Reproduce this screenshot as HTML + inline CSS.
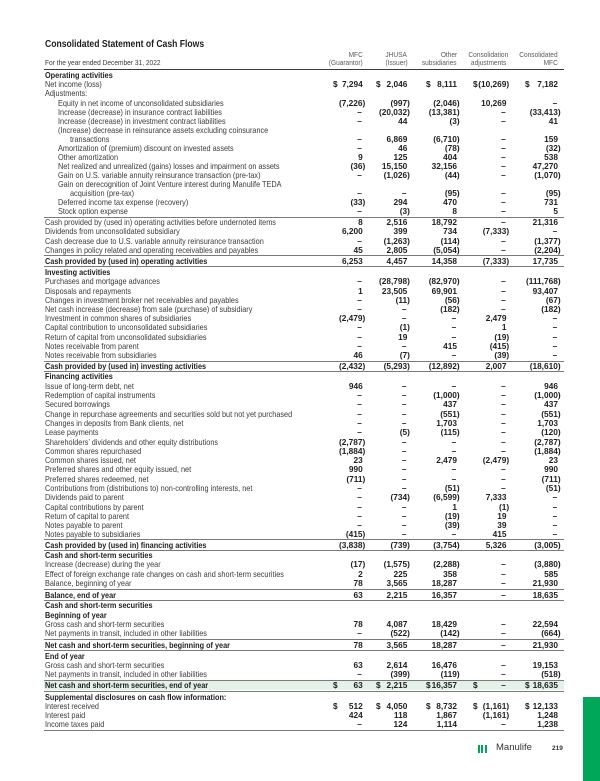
<!DOCTYPE html>
<html><head><meta charset="utf-8">
<style>
*{margin:0;padding:0;box-sizing:border-box}
html,body{width:600px;height:781px;background:#fff;overflow:hidden}
body{position:relative;font-family:"Liberation Sans",Arial,sans-serif;color:#231f20}
.r{position:absolute;left:0;width:600px;height:10px;line-height:10px;font-size:8.3px}
.t{position:absolute;left:45px;white-space:nowrap;transform:scaleX(.88);transform-origin:0 50%;color:#3a3a3a}
.t.i{left:58px}.t.j{left:70px}
.bd .t{font-weight:bold;color:#1e1e1e}
i{font-style:normal}
.n{position:absolute;top:0;font-weight:bold;font-size:8.3px;color:#1e1e1e;white-space:nowrap}
.n1{right:237.3px}.n2{right:192.7px}.n3{right:143px}.n4{right:93.5px}.n5{right:42px}
.p{margin-right:-2.6px}
.d{margin-right:.8px}
.s{position:absolute;top:0;font-weight:bold;font-size:8.3px;color:#1e1e1e}
.s1{left:333px}.s2{left:376px}.s3{left:426px}.s4{left:473px}.s5{left:525px}
.ln{position:absolute;left:44px;width:520px;height:1px;background:#7a7a7a}
.hd{position:absolute;font-size:7.3px;line-height:8px;color:#5a5a5a;white-space:nowrap;transform:scaleX(.9);transform-origin:100% 50%}
</style></head><body>

<div style="position:absolute;left:45px;top:38.6px;font-size:10px;line-height:12px;font-weight:bold;white-space:nowrap;transform:scaleX(.86);transform-origin:0 50%;color:#1e1e1e">Consolidated Statement of Cash Flows</div>

<div style="position:absolute;left:45px;top:59.1px;font-size:7.5px;line-height:8px;color:#3a3a3a;white-space:nowrap;transform:scaleX(.88);transform-origin:0 50%">For the year ended December 31, 2022</div>

<div class="hd" style="right:237.3px;top:50.9px">MFC</div>
<div class="hd" style="right:237.3px;top:59.1px">(Guarantor)</div>
<div class="hd" style="right:192.7px;top:50.9px">JHUSA</div>
<div class="hd" style="right:192.7px;top:59.1px">(Issuer)</div>
<div class="hd" style="right:143px;top:50.9px">Other</div>
<div class="hd" style="right:143px;top:59.1px">subsidiaries</div>
<div class="hd" style="right:92px;top:50.9px">Consolidation</div>
<div class="hd" style="right:94px;top:59.1px">adjustments</div>
<div class="hd" style="right:42px;top:50.9px">Consolidated</div>
<div class="hd" style="right:42px;top:59.1px">MFC</div>

<div style="position:absolute;left:44px;top:69.3px;width:520px;height:1.2px;background:#3c3c3c"></div>

<!-- lines -->
<div class="ln" style="top:216.5px"></div>
<div class="ln" style="top:255.4px"></div>
<div class="ln" style="top:265.9px"></div>
<div class="ln" style="top:360.5px"></div>
<div class="ln" style="top:370.8px"></div>
<div class="ln" style="top:538.9px"></div>
<div class="ln" style="top:550.2px"></div>
<div class="ln" style="top:589.4px"></div>
<div class="ln" style="top:600.3px"></div>
<div class="ln" style="top:639.3px"></div>
<div class="ln" style="top:650.1px"></div>
<div style="position:absolute;left:44px;top:680.2px;width:520px;height:10px;background:#e3f1e6"></div>
<div class="ln" style="top:679.6px"></div>
<div class="ln" style="top:690.6px"></div>
<div class="ln" style="top:729.5px"></div>

<!-- rows -->
<div class="r bd" style="top:70.3px"><span class="t">Operating activities</span></div>
<div class="r" style="top:79.4px"><span class="t">Net income (loss)</span><i class="s s1">$</i><i class="n n1">7,294</i><i class="s s2">$</i><i class="n n2">2,046</i><i class="s s3">$</i><i class="n n3">8,111</i><i class="s s4">$</i><i class="n n4 p">(10,269)</i><i class="s s5">$</i><i class="n n5">7,182</i></div>
<div class="r" style="top:88.4px"><span class="t">Adjustments:</span></div>
<div class="r" style="top:97.7px"><span class="t i">Equity in net income of unconsolidated subsidiaries</span><i class="n n1 p">(7,226)</i><i class="n n2 p">(997)</i><i class="n n3 p">(2,046)</i><i class="n n4">10,269</i><i class="n n5 d">–</i></div>
<div class="r" style="top:106.8px"><span class="t i">Increase (decrease) in insurance contract liabilities</span><i class="n n1 d">–</i><i class="n n2 p">(20,032)</i><i class="n n3 p">(13,381)</i><i class="n n4 d">–</i><i class="n n5 p">(33,413)</i></div>
<div class="r" style="top:115.9px"><span class="t i">Increase (decrease) in investment contract liabilities</span><i class="n n1 d">–</i><i class="n n2">44</i><i class="n n3 p">(3)</i><i class="n n4 d">–</i><i class="n n5">41</i></div>
<div class="r" style="top:125px"><span class="t i">(Increase) decrease in reinsurance assets excluding coinsurance</span></div>
<div class="r" style="top:133.9px"><span class="t j">transactions</span><i class="n n1 d">–</i><i class="n n2">6,869</i><i class="n n3 p">(6,710)</i><i class="n n4 d">–</i><i class="n n5">159</i></div>
<div class="r" style="top:142.7px"><span class="t i">Amortization of (premium) discount on invested assets</span><i class="n n1 d">–</i><i class="n n2">46</i><i class="n n3 p">(78)</i><i class="n n4 d">–</i><i class="n n5 p">(32)</i></div>
<div class="r" style="top:151.8px"><span class="t i">Other amortization</span><i class="n n1">9</i><i class="n n2">125</i><i class="n n3">404</i><i class="n n4 d">–</i><i class="n n5">538</i></div>
<div class="r" style="top:160.9px"><span class="t i">Net realized and unrealized (gains) losses and impairment on assets</span><i class="n n1 p">(36)</i><i class="n n2">15,150</i><i class="n n3">32,156</i><i class="n n4 d">–</i><i class="n n5">47,270</i></div>
<div class="r" style="top:170.1px"><span class="t i">Gain on U.S. variable annuity reinsurance transaction (pre-tax)</span><i class="n n1 d">–</i><i class="n n2 p">(1,026)</i><i class="n n3 p">(44)</i><i class="n n4 d">–</i><i class="n n5 p">(1,070)</i></div>
<div class="r" style="top:179.2px"><span class="t i">Gain on derecognition of Joint Venture interest during Manulife TEDA</span></div>
<div class="r" style="top:188px"><span class="t j">acquisition (pre-tax)</span><i class="n n1 d">–</i><i class="n n2 d">–</i><i class="n n3 p">(95)</i><i class="n n4 d">–</i><i class="n n5 p">(95)</i></div>
<div class="r" style="top:197px"><span class="t i">Deferred income tax expense (recovery)</span><i class="n n1 p">(33)</i><i class="n n2">294</i><i class="n n3">470</i><i class="n n4 d">–</i><i class="n n5">731</i></div>
<div class="r" style="top:206.1px"><span class="t i">Stock option expense</span><i class="n n1 d">–</i><i class="n n2 p">(3)</i><i class="n n3">8</i><i class="n n4 d">–</i><i class="n n5">5</i></div>
<div class="r" style="top:217.4px"><span class="t">Cash provided by (used in) operating activities before undernoted items</span><i class="n n1">8</i><i class="n n2">2,516</i><i class="n n3">18,792</i><i class="n n4 d">–</i><i class="n n5">21,316</i></div>
<div class="r" style="top:226.4px"><span class="t">Dividends from unconsolidated subsidiary</span><i class="n n1">6,200</i><i class="n n2">399</i><i class="n n3">734</i><i class="n n4 p">(7,333)</i><i class="n n5 d">–</i></div>
<div class="r" style="top:235.5px"><span class="t">Cash decrease due to U.S. variable annuity reinsurance transaction</span><i class="n n1 d">–</i><i class="n n2 p">(1,263)</i><i class="n n3 p">(114)</i><i class="n n4 d">–</i><i class="n n5 p">(1,377)</i></div>
<div class="r" style="top:244.7px"><span class="t">Changes in policy related and operating receivables and payables</span><i class="n n1">45</i><i class="n n2">2,805</i><i class="n n3 p">(5,054)</i><i class="n n4 d">–</i><i class="n n5 p">(2,204)</i></div>
<div class="r bd" style="top:255.9px"><span class="t">Cash provided by (used in) operating activities</span><i class="n n1">6,253</i><i class="n n2">4,457</i><i class="n n3">14,358</i><i class="n n4 p">(7,333)</i><i class="n n5">17,735</i></div>

<div class="r bd" style="top:266.6px"><span class="t">Investing activities</span></div>
<div class="r" style="top:276.2px"><span class="t">Purchases and mortgage advances</span><i class="n n1 d">–</i><i class="n n2 p">(28,798)</i><i class="n n3 p">(82,970)</i><i class="n n4 d">–</i><i class="n n5 p">(111,768)</i></div>
<div class="r" style="top:285.5px"><span class="t">Disposals and repayments</span><i class="n n1">1</i><i class="n n2">23,505</i><i class="n n3">69,901</i><i class="n n4 d">–</i><i class="n n5">93,407</i></div>
<div class="r" style="top:294.8px"><span class="t">Changes in investment broker net receivables and payables</span><i class="n n1 d">–</i><i class="n n2 p">(11)</i><i class="n n3 p">(56)</i><i class="n n4 d">–</i><i class="n n5 p">(67)</i></div>
<div class="r" style="top:304px"><span class="t">Net cash increase (decrease) from sale (purchase) of subsidiary</span><i class="n n1 d">–</i><i class="n n2 d">–</i><i class="n n3 p">(182)</i><i class="n n4 d">–</i><i class="n n5 p">(182)</i></div>
<div class="r" style="top:313.2px"><span class="t">Investment in common shares of subsidiaries</span><i class="n n1 p">(2,479)</i><i class="n n2 d">–</i><i class="n n3 d">–</i><i class="n n4">2,479</i><i class="n n5 d">–</i></div>
<div class="r" style="top:322.4px"><span class="t">Capital contribution to unconsolidated subsidiaries</span><i class="n n1 d">–</i><i class="n n2 p">(1)</i><i class="n n3 d">–</i><i class="n n4">1</i><i class="n n5 d">–</i></div>
<div class="r" style="top:331.7px"><span class="t">Return of capital from unconsolidated subsidiaries</span><i class="n n1 d">–</i><i class="n n2">19</i><i class="n n3 d">–</i><i class="n n4 p">(19)</i><i class="n n5 d">–</i></div>
<div class="r" style="top:340.9px"><span class="t">Notes receivable from parent</span><i class="n n1 d">–</i><i class="n n2 d">–</i><i class="n n3">415</i><i class="n n4 p">(415)</i><i class="n n5 d">–</i></div>
<div class="r" style="top:350.1px"><span class="t">Notes receivable from subsidiaries</span><i class="n n1">46</i><i class="n n2 p">(7)</i><i class="n n3 d">–</i><i class="n n4 p">(39)</i><i class="n n5 d">–</i></div>
<div class="r bd" style="top:361px"><span class="t">Cash provided by (used in) investing activities</span><i class="n n1 p">(2,432)</i><i class="n n2 p">(5,293)</i><i class="n n3 p">(12,892)</i><i class="n n4">2,007</i><i class="n n5 p">(18,610)</i></div>

<div class="r bd" style="top:371.4px"><span class="t">Financing activities</span></div>
<div class="r" style="top:380.7px"><span class="t">Issue of long-term debt, net</span><i class="n n1">946</i><i class="n n2 d">–</i><i class="n n3 d">–</i><i class="n n4 d">–</i><i class="n n5">946</i></div>
<div class="r" style="top:390px"><span class="t">Redemption of capital instruments</span><i class="n n1 d">–</i><i class="n n2 d">–</i><i class="n n3 p">(1,000)</i><i class="n n4 d">–</i><i class="n n5 p">(1,000)</i></div>
<div class="r" style="top:399.3px"><span class="t">Secured borrowings</span><i class="n n1 d">–</i><i class="n n2 d">–</i><i class="n n3">437</i><i class="n n4 d">–</i><i class="n n5">437</i></div>
<div class="r" style="top:408.6px"><span class="t">Change in repurchase agreements and securities sold but not yet purchased</span><i class="n n1 d">–</i><i class="n n2 d">–</i><i class="n n3 p">(551)</i><i class="n n4 d">–</i><i class="n n5 p">(551)</i></div>
<div class="r" style="top:417.9px"><span class="t">Changes in deposits from Bank clients, net</span><i class="n n1 d">–</i><i class="n n2 d">–</i><i class="n n3">1,703</i><i class="n n4 d">–</i><i class="n n5">1,703</i></div>
<div class="r" style="top:427.2px"><span class="t">Lease payments</span><i class="n n1 d">–</i><i class="n n2 p">(5)</i><i class="n n3 p">(115)</i><i class="n n4 d">–</i><i class="n n5 p">(120)</i></div>
<div class="r" style="top:436.5px"><span class="t">Shareholders’ dividends and other equity distributions</span><i class="n n1 p">(2,787)</i><i class="n n2 d">–</i><i class="n n3 d">–</i><i class="n n4 d">–</i><i class="n n5 p">(2,787)</i></div>
<div class="r" style="top:445.8px"><span class="t">Common shares repurchased</span><i class="n n1 p">(1,884)</i><i class="n n2 d">–</i><i class="n n3 d">–</i><i class="n n4 d">–</i><i class="n n5 p">(1,884)</i></div>
<div class="r" style="top:455.1px"><span class="t">Common shares issued, net</span><i class="n n1">23</i><i class="n n2 d">–</i><i class="n n3">2,479</i><i class="n n4 p">(2,479)</i><i class="n n5">23</i></div>
<div class="r" style="top:464.4px"><span class="t">Preferred shares and other equity issued, net</span><i class="n n1">990</i><i class="n n2 d">–</i><i class="n n3 d">–</i><i class="n n4 d">–</i><i class="n n5">990</i></div>
<div class="r" style="top:473.7px"><span class="t">Preferred shares redeemed, net</span><i class="n n1 p">(711)</i><i class="n n2 d">–</i><i class="n n3 d">–</i><i class="n n4 d">–</i><i class="n n5 p">(711)</i></div>
<div class="r" style="top:483px"><span class="t">Contributions from (distributions to) non-controlling interests, net</span><i class="n n1 d">–</i><i class="n n2 d">–</i><i class="n n3 p">(51)</i><i class="n n4 d">–</i><i class="n n5 p">(51)</i></div>
<div class="r" style="top:492.3px"><span class="t">Dividends paid to parent</span><i class="n n1 d">–</i><i class="n n2 p">(734)</i><i class="n n3 p">(6,599)</i><i class="n n4">7,333</i><i class="n n5 d">–</i></div>
<div class="r" style="top:501.6px"><span class="t">Capital contributions by parent</span><i class="n n1 d">–</i><i class="n n2 d">–</i><i class="n n3">1</i><i class="n n4 p">(1)</i><i class="n n5 d">–</i></div>
<div class="r" style="top:510.9px"><span class="t">Return of capital to parent</span><i class="n n1 d">–</i><i class="n n2 d">–</i><i class="n n3 p">(19)</i><i class="n n4">19</i><i class="n n5 d">–</i></div>
<div class="r" style="top:520.1px"><span class="t">Notes payable to parent</span><i class="n n1 d">–</i><i class="n n2 d">–</i><i class="n n3 p">(39)</i><i class="n n4">39</i><i class="n n5 d">–</i></div>
<div class="r" style="top:528.9px"><span class="t">Notes payable to subsidiaries</span><i class="n n1 p">(415)</i><i class="n n2 d">–</i><i class="n n3 d">–</i><i class="n n4">415</i><i class="n n5 d">–</i></div>
<div class="r bd" style="top:539.5px"><span class="t">Cash provided by (used in) financing activities</span><i class="n n1 p">(3,838)</i><i class="n n2 p">(739)</i><i class="n n3 p">(3,754)</i><i class="n n4">5,326</i><i class="n n5 p">(3,005)</i></div>

<div class="r bd" style="top:550.1px"><span class="t">Cash and short-term securities</span></div>
<div class="r" style="top:559.3px"><span class="t">Increase (decrease) during the year</span><i class="n n1 p">(17)</i><i class="n n2 p">(1,575)</i><i class="n n3 p">(2,288)</i><i class="n n4 d">–</i><i class="n n5 p">(3,880)</i></div>
<div class="r" style="top:568.5px"><span class="t">Effect of foreign exchange rate changes on cash and short-term securities</span><i class="n n1">2</i><i class="n n2">225</i><i class="n n3">358</i><i class="n n4 d">–</i><i class="n n5">585</i></div>
<div class="r" style="top:577.7px"><span class="t">Balance, beginning of year</span><i class="n n1">78</i><i class="n n2">3,565</i><i class="n n3">18,287</i><i class="n n4 d">–</i><i class="n n5">21,930</i></div>
<div class="r bd" style="top:589.9px"><span class="t">Balance, end of year</span><i class="n n1">63</i><i class="n n2">2,215</i><i class="n n3">16,357</i><i class="n n4 d">–</i><i class="n n5">18,635</i></div>

<div class="r bd" style="top:600.4px"><span class="t">Cash and short-term securities</span></div>
<div class="r bd" style="top:609.7px"><span class="t">Beginning of year</span></div>
<div class="r" style="top:618.9px"><span class="t">Gross cash and short-term securities</span><i class="n n1">78</i><i class="n n2">4,087</i><i class="n n3">18,429</i><i class="n n4 d">–</i><i class="n n5">22,594</i></div>
<div class="r" style="top:628.1px"><span class="t">Net payments in transit, included in other liabilities</span><i class="n n1 d">–</i><i class="n n2 p">(522)</i><i class="n n3 p">(142)</i><i class="n n4 d">–</i><i class="n n5 p">(664)</i></div>
<div class="r bd" style="top:639.6px"><span class="t">Net cash and short-term securities, beginning of year</span><i class="n n1">78</i><i class="n n2">3,565</i><i class="n n3">18,287</i><i class="n n4 d">–</i><i class="n n5">21,930</i></div>
<div class="r bd" style="top:650.7px"><span class="t">End of year</span></div>
<div class="r" style="top:659.9px"><span class="t">Gross cash and short-term securities</span><i class="n n1">63</i><i class="n n2">2,614</i><i class="n n3">16,476</i><i class="n n4 d">–</i><i class="n n5">19,153</i></div>
<div class="r" style="top:669.1px"><span class="t">Net payments in transit, included in other liabilities</span><i class="n n1 d">–</i><i class="n n2 p">(399)</i><i class="n n3 p">(119)</i><i class="n n4 d">–</i><i class="n n5 p">(518)</i></div>
<div class="r bd" style="top:680.3px"><span class="t">Net cash and short-term securities, end of year</span><i class="s s1">$</i><i class="n n1">63</i><i class="s s2">$</i><i class="n n2">2,215</i><i class="s s3">$</i><i class="n n3">16,357</i><i class="s s4">$</i><i class="n n4 d">–</i><i class="s s5">$</i><i class="n n5">18,635</i></div>

<div class="r bd" style="top:691.8px"><span class="t">Supplemental disclosures on cash flow information:</span></div>
<div class="r" style="top:700.7px"><span class="t">Interest received</span><i class="s s1">$</i><i class="n n1">512</i><i class="s s2">$</i><i class="n n2">4,050</i><i class="s s3">$</i><i class="n n3">8,732</i><i class="s s4">$</i><i class="n n4 p">(1,161)</i><i class="s s5">$</i><i class="n n5">12,133</i></div>
<div class="r" style="top:709.7px"><span class="t">Interest paid</span><i class="n n1">424</i><i class="n n2">118</i><i class="n n3">1,867</i><i class="n n4 p">(1,161)</i><i class="n n5">1,248</i></div>
<div class="r" style="top:718.9px"><span class="t">Income taxes paid</span><i class="n n1 d">–</i><i class="n n2">124</i><i class="n n3">1,114</i><i class="n n4 d">–</i><i class="n n5">1,238</i></div>

<!-- footer -->
<div style="position:absolute;left:477.5px;top:745px;width:2px;height:7.5px;background:#00a758"></div>
<div style="position:absolute;left:481.2px;top:745px;width:2px;height:7.5px;background:#00a758"></div>
<div style="position:absolute;left:484.9px;top:745px;width:2px;height:7.5px;background:#00a758"></div>
<div style="position:absolute;left:496px;top:742.4px;font-size:9.5px;line-height:12px;color:#333;white-space:nowrap">Manulife</div>
<div style="position:absolute;left:552px;top:745.1px;font-size:6.5px;line-height:8px;font-weight:bold;color:#333">219</div>
<div style="position:absolute;left:583px;top:697px;width:17px;height:84px;background:#00a758"></div>

</body></html>
